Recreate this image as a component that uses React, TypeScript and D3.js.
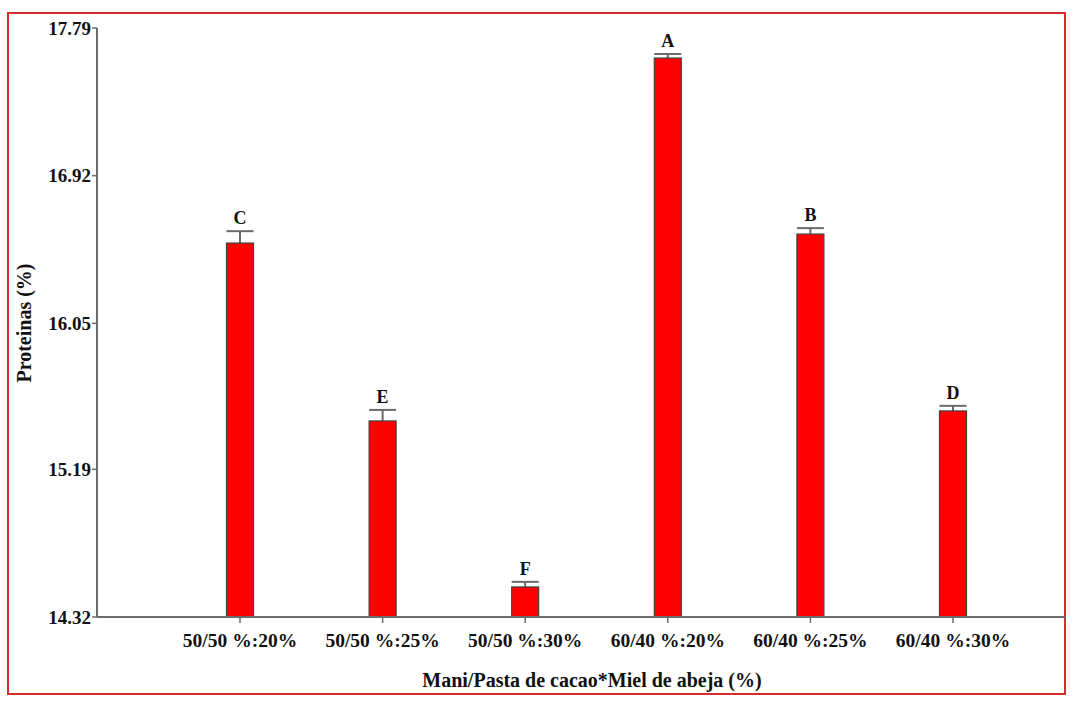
import React from "react";
import * as d3 from "d3";

const categories = ["50/50 %:20%", "50/50 %:25%", "50/50 %:30%", "60/40 %:20%", "60/40 %:25%", "60/40 %:30%"];
const means = [16.523, 15.475, 14.497, 17.613, 16.576, 15.534];
const errors = [0.07, 0.065, 0.03, 0.024, 0.035, 0.03];
const letters = ["C", "E", "F", "A", "B", "D"];
const yTicks = [14.32, 15.19, 16.05, 16.92, 17.79];

const W = 1077;
const H = 706;
const FONT = "'Liberation Serif', 'Times New Roman', serif";

export default function App() {
  const x0 = 97;
  const x1 = 1065;
  const yTop = 28;
  const yBot = 617;
  const x = d3.scalePoint<string>().domain(categories).range([240, 953]);
  const y = d3.scaleLinear().domain([14.32, 17.79]).range([yBot, yTop]);
  const bw = 27;
  const axisColor = "#6b6b6b";

  return (
    <svg width={W} height={H} style={{ position: "absolute", left: 0, top: 0, background: "#fff" }}>
      <rect x={8} y={13} width={1057} height={681} fill="none" stroke="#d92b2b" strokeWidth={2} />
      {categories.map((c, i) => {
        const cx = x(c)!;
        const top = y(means[i]);
        const capY = y(means[i] + errors[i]);
        return (
          <g key={c}>
            <line x1={cx} x2={cx} y1={top} y2={capY} stroke={axisColor} strokeWidth={2} />
            <line x1={cx - bw / 2} x2={cx + bw / 2} y1={capY} y2={capY} stroke={axisColor} strokeWidth={2} />
            <rect x={cx - bw / 2} y={top} width={bw} height={yBot - top} fill="#ff0000" stroke="#404040" strokeWidth={1.2} />
            <text x={cx} y={capY - 7} textAnchor="middle" fontFamily={FONT} fontWeight="bold" fontSize={18} fill="#111">
              {letters[i]}
            </text>
          </g>
        );
      })}
      <line x1={x0} x2={x0} y1={yTop} y2={yBot} stroke={axisColor} strokeWidth={2} />
      {yTicks.map((t) => (
        <g key={t}>
          <line x1={x0 - 5} x2={x0} y1={y(t)} y2={y(t)} stroke={axisColor} strokeWidth={1.5} />
          <text x={x0 - 6} y={y(t)} dy="0.35em" textAnchor="end" fontFamily={FONT} fontWeight="bold" fontSize={19} fill="#111">
            {t.toFixed(2)}
          </text>
        </g>
      ))}
      <line x1={x0} x2={x1} y1={yBot} y2={yBot} stroke={axisColor} strokeWidth={2} />
      {categories.map((c) => (
        <g key={c}>
          <line x1={x(c)!} x2={x(c)!} y1={yBot} y2={yBot + 6} stroke={axisColor} strokeWidth={1.5} />
          <text x={x(c)!} y={647} textAnchor="middle" fontFamily={FONT} fontWeight="bold" fontSize={19.5} fill="#111">
            {c}
          </text>
        </g>
      ))}
      <text x={592} y={687} textAnchor="middle" fontFamily={FONT} fontWeight="bold" fontSize={20} fill="#111">
        Mani/Pasta de cacao*Miel de abeja (%)
      </text>
      <text
        transform="translate(31,323) rotate(-90)"
        textAnchor="middle"
        fontFamily={FONT}
        fontWeight="bold"
        fontSize={20}
        fill="#111"
      >
        Proteinas (%)
      </text>
    </svg>
  );
}
